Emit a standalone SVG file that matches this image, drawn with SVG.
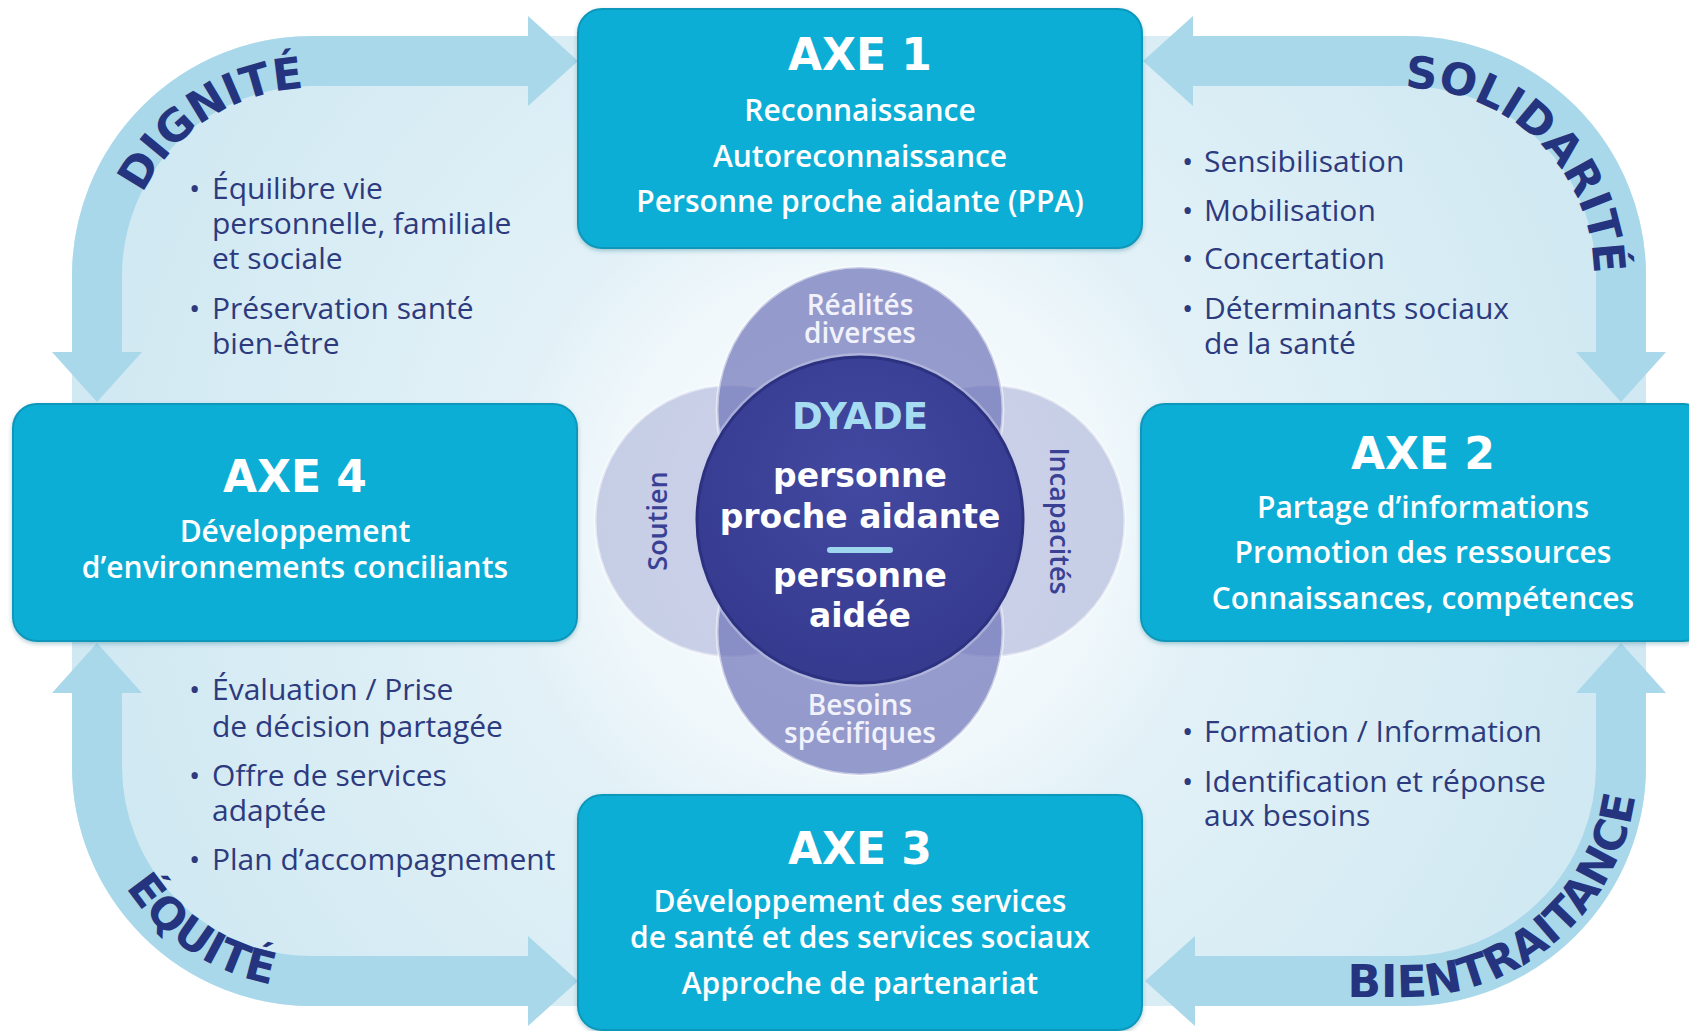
<svg xmlns="http://www.w3.org/2000/svg" xmlns:xlink="http://www.w3.org/1999/xlink" width="1689" height="1031" viewBox="0 0 1689 1031">
<defs>
  <radialGradient id="bgGrad" cx="860" cy="520" r="820" gradientUnits="userSpaceOnUse">
    <stop offset="0" stop-color="#f2f9fc"/>
    <stop offset="0.45" stop-color="#e2f1f7"/>
    <stop offset="1" stop-color="#cfe8f2"/>
  </radialGradient>
  <radialGradient id="glow" cx="860" cy="520" r="360" gradientUnits="userSpaceOnUse">
    <stop offset="0" stop-color="#ffffff" stop-opacity="0.8"/>
    <stop offset="0.7" stop-color="#ffffff" stop-opacity="0.35"/>
    <stop offset="1" stop-color="#ffffff" stop-opacity="0"/>
  </radialGradient>
  <radialGradient id="coreGrad" cx="860" cy="480" r="190" gradientUnits="userSpaceOnUse">
    <stop offset="0" stop-color="#4249a0"/>
    <stop offset="1" stop-color="#363b90"/>
  </radialGradient>
  <filter id="shadow" x="-5%" y="-5%" width="110%" height="115%">
    <feDropShadow dx="0" dy="2" stdDeviation="2" flood-color="#0a5f78" flood-opacity="0.3"/>
  </filter>
  <path id="tpDig" d="M 124 420 L 124 276 A 188 188 0 0 1 312 88 L 600 88"/>
  <path id="tpSol" d="M 1150 88 L 1406 88 A 188 188 0 0 1 1594 276 L 1594 420"/>
  <path id="tpEqu" d="M 90 600 L 90 766 A 222 222 0 0 0 312 988 L 600 988"/>
  <path id="tpBien" d="M 1100 997 L 1406 997 A 231 231 0 0 0 1637 766 L 1637 600"/>
  <style>
    .band { fill: none; stroke: #a9d8ea; stroke-width: 50; }
    .head { fill: #a9d8ea; }
    .arcLabel { font-family: "DejaVu Sans", "Liberation Sans", sans-serif; font-weight: bold; font-size: 44px; fill: #24347f; }
    .box { fill: #10aed5; stroke: #0b97bb; stroke-width: 2; }
    .title { font-family: "DejaVu Sans", "Liberation Sans", sans-serif; font-weight: bold; font-size: 44px; fill: #ffffff; text-anchor: middle; }
    .boxTxt { font-family: "Open Sans", "Liberation Sans", sans-serif; font-weight: 600; font-size: 30px; fill: #ffffff; text-anchor: middle; }
    .bul { font-family: "Open Sans", "Liberation Sans", sans-serif; font-weight: 400; font-size: 30px; fill: #2d3b7e; }
    .petalTxt { font-family: "Open Sans", "Liberation Sans", sans-serif; font-weight: 600; font-size: 28px; fill: #f1f2fb; text-anchor: middle; }
    .sideTxt { font-family: "Open Sans", "Liberation Sans", sans-serif; font-weight: 600; font-size: 27px; fill: #3a4195; text-anchor: middle; }
    .core { font-family: "DejaVu Sans", "Liberation Sans", sans-serif; font-weight: bold; font-size: 33px; fill: #ffffff; text-anchor: middle; }
    .dyade { font-family: "DejaVu Sans", "Liberation Sans", sans-serif; font-weight: bold; font-size: 37px; fill: #a6dcf2; text-anchor: middle; }
  </style>
</defs>

<rect x="0" y="0" width="1689" height="1031" fill="#ffffff"/>
<rect x="72" y="36" width="1574" height="970" rx="240" ry="240" fill="url(#bgGrad)"/>
<circle cx="860" cy="520" r="360" fill="url(#glow)"/>

<g id="connectors">
  <path class="band" d="M 97 353 L 97 276 A 215 215 0 0 1 312 61 L 529 61"/>
  <polygon class="head" points="528,16 578,61 528,106"/>
  <polygon class="head" points="52,352 97,402 142,352"/>

  <path class="band" d="M 1192 61 L 1406 61 A 215 215 0 0 1 1621 276 L 1621 353"/>
  <polygon class="head" points="1193,16 1143,61 1193,106"/>
  <polygon class="head" points="1576,352 1621,402 1666,352"/>

  <path class="band" d="M 97 692 L 97 766 A 215 215 0 0 0 312 981 L 529 981"/>
  <polygon class="head" points="52,693 97,643 142,693"/>
  <polygon class="head" points="528,936 578,981 528,1026"/>

  <path class="band" d="M 1621 692 L 1621 766 A 215 215 0 0 1 1406 981 L 1194 981"/>
  <polygon class="head" points="1576,693 1621,643 1666,693"/>
  <polygon class="head" points="1195,936 1145,981 1195,1026"/>

  <text class="arcLabel" text-anchor="middle"><textPath href="#tpDig" xlink:href="#tpDig" startOffset="330">DIGNITÉ</textPath></text>
  <text class="arcLabel" text-anchor="middle"><textPath href="#tpSol" xlink:href="#tpSol" startOffset="402">SOLIDARITÉ</textPath></text>
  <text class="arcLabel" text-anchor="middle"><textPath href="#tpEqu" xlink:href="#tpEqu" startOffset="384">ÉQUITÉ</textPath></text>
  <text class="arcLabel" text-anchor="middle"><textPath href="#tpBien" xlink:href="#tpBien" startOffset="443">BIENTRAITANCE</textPath></text>
</g>

<g id="axe1">
  <rect class="box" x="578" y="9" width="564" height="239" rx="24" filter="url(#shadow)"/>
  <text class="title" x="860" y="70">AXE 1</text>
  <text class="boxTxt" x="860" y="121">Reconnaissance</text>
  <text class="boxTxt" x="860" y="167">Autoreconnaissance</text>
  <text class="boxTxt" x="860" y="212">Personne proche aidante (PPA)</text>
</g>

<g id="axe2">
  <rect class="box" x="1141" y="404" width="566" height="237" rx="24" filter="url(#shadow)"/>
  <text class="title" x="1423" y="469">AXE 2</text>
  <text class="boxTxt" x="1423" y="518">Partage d’informations</text>
  <text class="boxTxt" x="1423" y="563">Promotion des ressources</text>
  <text class="boxTxt" x="1423" y="609">Connaissances, compétences</text>
</g>

<g id="axe3">
  <rect class="box" x="578" y="795" width="564" height="235" rx="24" filter="url(#shadow)"/>
  <text class="title" x="860" y="864">AXE 3</text>
  <text class="boxTxt" x="860" y="912">Développement des services</text>
  <text class="boxTxt" x="860" y="948">de santé et des services sociaux</text>
  <text class="boxTxt" x="860" y="994">Approche de partenariat</text>
</g>

<g id="axe4">
  <rect class="box" x="13" y="404" width="564" height="237" rx="24" filter="url(#shadow)"/>
  <text class="title" x="295" y="492">AXE 4</text>
  <text class="boxTxt" x="295" y="542">Développement</text>
  <text class="boxTxt" x="295" y="578">d’environnements conciliants</text>
</g>

<g id="bullets-dignite">
  <text class="bul" y="199"><tspan x="189">•</tspan><tspan x="212">Équilibre vie</tspan></text>
  <text class="bul" x="212" y="234">personnelle, familiale</text>
  <text class="bul" x="212" y="269">et sociale</text>
  <text class="bul" y="319"><tspan x="189">•</tspan><tspan x="212">Préservation santé</tspan></text>
  <text class="bul" x="212" y="354">bien-être</text>
</g>

<g id="bullets-solidarite">
  <text class="bul" y="172"><tspan x="1182">•</tspan><tspan x="1204">Sensibilisation</tspan></text>
  <text class="bul" y="221"><tspan x="1182">•</tspan><tspan x="1204">Mobilisation</tspan></text>
  <text class="bul" y="269"><tspan x="1182">•</tspan><tspan x="1204">Concertation</tspan></text>
  <text class="bul" y="319"><tspan x="1182">•</tspan><tspan x="1204">Déterminants sociaux</tspan></text>
  <text class="bul" x="1204" y="354">de la santé</text>
</g>

<g id="bullets-equite">
  <text class="bul" y="700"><tspan x="189">•</tspan><tspan x="212">Évaluation / Prise</tspan></text>
  <text class="bul" x="212" y="737">de décision partagée</text>
  <text class="bul" y="786"><tspan x="189">•</tspan><tspan x="212">Offre de services</tspan></text>
  <text class="bul" x="212" y="821">adaptée</text>
  <text class="bul" y="870"><tspan x="189">•</tspan><tspan x="212">Plan d’accompagnement</tspan></text>
</g>

<g id="bullets-bientraitance">
  <text class="bul" y="742"><tspan x="1182">•</tspan><tspan x="1204">Formation / Information</tspan></text>
  <text class="bul" y="792"><tspan x="1182">•</tspan><tspan x="1204">Identification et réponse</tspan></text>
  <text class="bul" x="1204" y="826">aux besoins</text>
</g>

<g id="dyade">
  <circle cx="731" cy="521" r="136" fill="#8a90c8" fill-opacity="0.4" stroke="#ffffff" stroke-opacity="0.5" stroke-width="3"/>
  <circle cx="989" cy="521" r="136" fill="#8a90c8" fill-opacity="0.4" stroke="#ffffff" stroke-opacity="0.5" stroke-width="3"/>
  <circle cx="860" cy="410" r="143" fill="#6c72b8" fill-opacity="0.7" stroke="#ffffff" stroke-opacity="0.5" stroke-width="3"/>
  <circle cx="860" cy="632" r="143" fill="#6c72b8" fill-opacity="0.7" stroke="#ffffff" stroke-opacity="0.5" stroke-width="3"/>
  <circle cx="860" cy="520" r="167" fill="#c9cdea" fill-opacity="0.5"/>
  <circle cx="860" cy="520" r="163" fill="url(#coreGrad)" stroke="#2c3180" stroke-width="3"/>
  <text class="petalTxt" x="860" y="315">Réalités</text>
  <text class="petalTxt" x="860" y="343">diverses</text>
  <text class="petalTxt" x="860" y="715">Besoins</text>
  <text class="petalTxt" x="860" y="743">spécifiques</text>
  <text class="sideTxt" transform="translate(667 521) rotate(-90)">Soutien</text>
  <text class="sideTxt" transform="translate(1050 521) rotate(90)">Incapacités</text>
  <text class="dyade" x="860" y="429">DYADE</text>
  <text class="core" x="860" y="487">personne</text>
  <text class="core" x="860" y="528">proche aidante</text>
  <rect x="827" y="547" width="66" height="6" rx="3" fill="#9fd6ef"/>
  <text class="core" x="860" y="587">personne</text>
  <text class="core" x="860" y="627">aidée</text>
</g>
</svg>
